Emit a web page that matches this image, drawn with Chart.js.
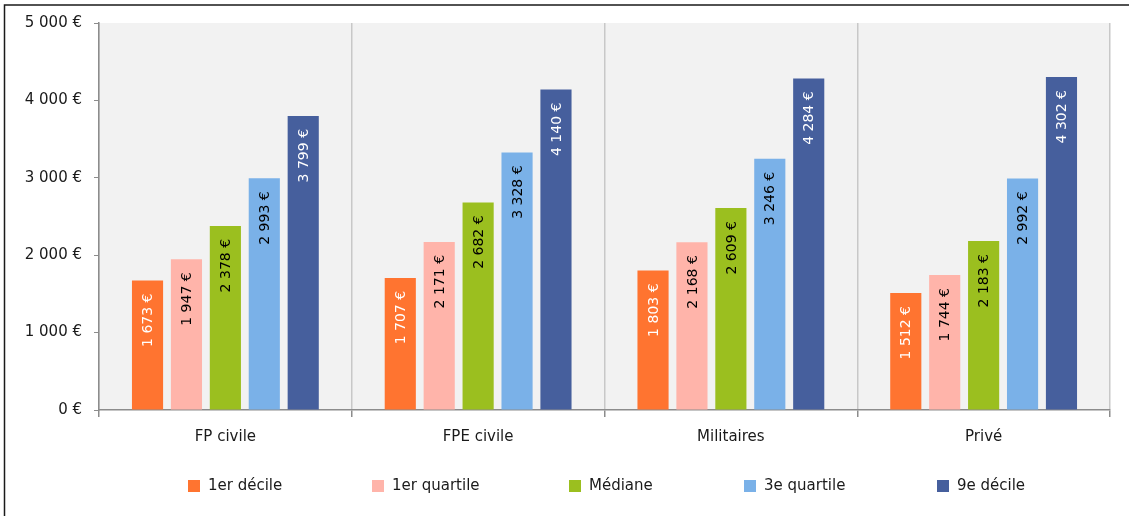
<!DOCTYPE html>
<html>
<head>
<meta charset="utf-8">
<script src="https://cdn.jsdelivr.net/npm/chart.js@4"></script>
<style>
  html, body { margin: 0; padding: 0; background: #fff; }
  #wrap { position: relative; width: 1129px; height: 516px; }
</style>
</head>
<body>
<div id="wrap"><canvas id="myChart" width="1129" height="516"></canvas></div>
<script>
const categories = ['FP civile', 'FPE civile', 'Militaires', 'Privé'];
const seriesNames = ['1er décile', '1er quartile', 'Médiane', '3e quartile', '9e décile'];
const decile1 = [1673, 1707, 1803, 1512];
const quartile1 = [1947, 2171, 2168, 1744];
const mediane = [2378, 2682, 2609, 2183];
const quartile3 = [2993, 3328, 3246, 2992];
const decile9 = [3799, 4140, 4284, 4302];
const yTicks = [0, 1000, 2000, 3000, 4000, 5000];

const colors = ['#ff7430', '#ffb4aa', '#9bbf1f', '#7ab1e8', '#465f9d'];
const labelColors = ['#ffffff', '#000000', '#000000', '#000000', '#ffffff'];
const FONT = '"DejaVu Sans", sans-serif';

function euro(v) {
  return String(v).replace(/\B(?=(\d{3})+(?!\d))/g, ' ') + ' €';
}

// gray plot background + frame lines of the figure
const backdrop = {
  id: 'backdrop',
  beforeDraw(chart) {
    const { ctx, chartArea: a } = chart;
    ctx.save();
    ctx.fillStyle = '#f2f2f2';
    ctx.fillRect(a.left, a.top, a.right - a.left, a.bottom - a.top);
    ctx.strokeStyle = '#1a1a1a';
    ctx.lineWidth = 1.5;
    ctx.beginPath();
    ctx.moveTo(4.5, chart.height);
    ctx.lineTo(4.5, 5);
    ctx.lineTo(chart.width, 5);
    ctx.stroke();
    ctx.restore();
  }
};

// rotated values inside the bars
const barValues = {
  id: 'barValues',
  afterDatasetsDraw(chart) {
    const ctx = chart.ctx;
    ctx.save();
    ctx.font = '14px ' + FONT;
    ctx.textAlign = 'right';
    ctx.textBaseline = 'middle';
    chart.data.datasets.forEach((ds, i) => {
      chart.getDatasetMeta(i).data.forEach((bar, j) => {
        ctx.save();
        ctx.translate(bar.x + 1, bar.y + 13);
        ctx.rotate(-Math.PI / 2);
        ctx.fillStyle = labelColors[i];
        ctx.fillText(euro(ds.data[j]), 0, 0);
        ctx.restore();
      });
    });
    ctx.restore();
  }
};

// legend drawn below the axis, fixed slots like the original
const legendSlots = [188, 372, 569, 744, 937];
const bottomLegend = {
  id: 'bottomLegend',
  afterDraw(chart) {
    const ctx = chart.ctx;
    const box = 12, textGap = 8, y = 486;
    ctx.save();
    ctx.font = '15px ' + FONT;
    ctx.textBaseline = 'middle';
    seriesNames.forEach((n, i) => {
      const x = legendSlots[i];
      ctx.fillStyle = colors[i];
      ctx.fillRect(x, y - 6, box, box);
      ctx.fillStyle = '#1a1a1a';
      ctx.fillText(n, x + box + textGap, y);
    });
    ctx.restore();
  }
};

const allSeries = [decile1, quartile1, mediane, quartile3, decile9];

const data = {
  labels: categories,
  datasets: allSeries.map((vals, i) => ({
    label: seriesNames[i],
    data: vals,
    backgroundColor: colors[i],
    borderWidth: 0,
    categoryPercentage: 0.77,
    barPercentage: 0.8
  }))
};

const options = {
  responsive: false,
  animation: false,
  layout: { padding: { top: 23, right: 19, left: 0, bottom: 0 } },
  plugins: {
    legend: { display: false },
    tooltip: { enabled: false }
  },
  scales: {
    x: {
      grid: {
        offset: true,
        color: '#c8c8c8',
        tickColor: '#8c8c8c',
        tickLength: 7,
        lineWidth: 1.5
      },
      border: { color: '#8c8c8c', width: 1.5 },
      ticks: {
        color: '#1a1a1a',
        font: { family: FONT, size: 15 },
        padding: 11
      },
      afterFit(s) { s.height = 106; }
    },
    y: {
      min: 0,
      max: 5000,
      afterBuildTicks(s) { s.ticks = yTicks.map(v => ({ value: v })); },
      grid: {
        drawOnChartArea: false,
        tickLength: 5,
        tickColor: '#8c8c8c'
      },
      border: { color: '#8c8c8c', width: 1.5 },
      ticks: {
        color: '#1a1a1a',
        font: { family: FONT, size: 15 },
        padding: 12,
        callback: v => euro(v)
      },
      afterFit(s) { s.width = 99; }
    }
  }
};

const config = {
  type: 'bar',
  data: data,
  options: options,
  plugins: [backdrop, barValues, bottomLegend]
};

new Chart(document.getElementById('myChart').getContext('2d'), config);
</script>
</body>
</html>
